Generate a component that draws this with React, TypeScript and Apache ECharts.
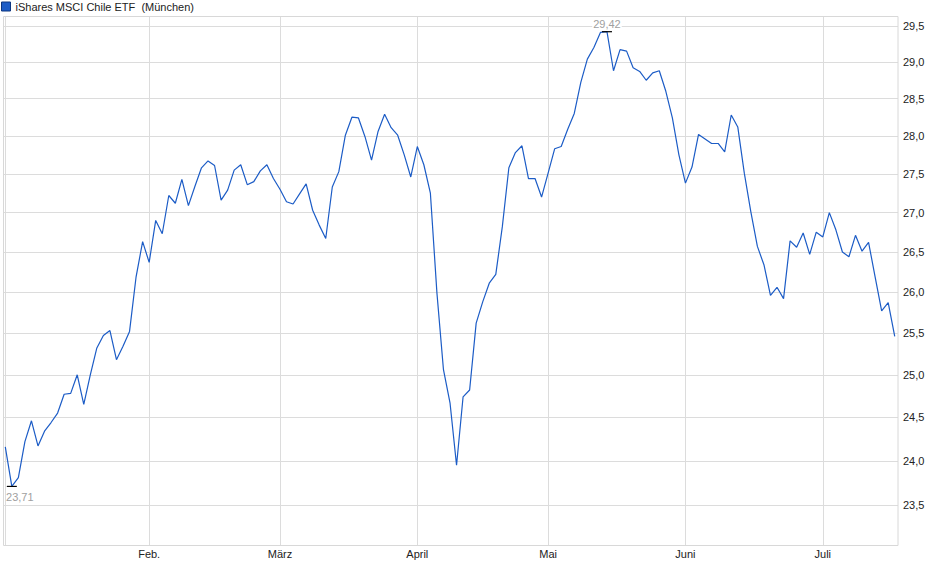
import { useEffect, useRef } from 'react'
import * as echarts from 'echarts'

const SERIES_NAME = 'iShares MSCI Chile ETF  (München)'

// trading-day index of the first session of each month (Jan 2 .. Jul 16, 2025)
const MONTH_START = [0, 22, 42, 63, 83, 104, 125]
const MONTH_LABELS = ['', 'Feb.', 'März', 'April', 'Mai', 'Juni', 'Juli']

const Y_TICKS = [23.5, 24, 24.5, 25, 25.5, 26, 26.5, 27, 27.5, 28, 28.5, 29, 29.5]

// closing prices, one per trading day
const PRICES_JAN = [
  24.16, 23.71, 23.81, 24.22, 24.46, 24.17, 24.34, 24.44, 24.55, 24.77, 24.78,
  25.0, 24.65, 25.0, 25.32, 25.47, 25.53, 25.18, 25.34, 25.52, 26.19, 26.63,
]
const PRICES_FEB = [
  26.37, 26.9, 26.73, 27.22, 27.12, 27.43, 27.09, 27.34, 27.58, 27.67,
  27.61, 27.16, 27.29, 27.55, 27.62, 27.36, 27.4, 27.54, 27.62, 27.44,
]
const PRICES_MAR = [
  27.3, 27.14, 27.11, 27.24, 27.37, 27.03, 26.84, 26.67, 27.33, 27.53, 28.01,
  28.25, 28.24, 27.99, 27.68, 28.06, 28.29, 28.11, 28.01, 27.75, 27.46,
]
const PRICES_APR = [
  27.86, 27.62, 27.25, 25.99, 25.06, 24.67, 23.95, 24.74, 24.82, 25.62,
  25.88, 26.11, 26.22, 26.82, 27.58, 27.78, 27.87, 27.44, 27.44, 27.2,
]
const PRICES_MAY = [
  27.51, 27.83, 27.86, 28.09, 28.3, 28.72, 29.04, 29.2, 29.41, 29.42, 28.88,
  29.17, 29.15, 28.92, 28.87, 28.75, 28.85, 28.88, 28.6, 28.24, 27.75,
]
const PRICES_JUN = [
  27.38, 27.59, 28.02, 27.96, 27.9, 27.9, 27.79, 28.28, 28.12, 27.51, 27.01,
  26.57, 26.34, 25.96, 26.06, 25.92, 26.64, 26.56, 26.74, 26.47, 26.75,
]
const PRICES_JUL = [
  26.69, 27.0, 26.78, 26.5, 26.44, 26.71, 26.51, 26.62, 26.19, 25.77, 25.87, 25.46,
]

const PRICES = [
  ...PRICES_JAN,
  ...PRICES_FEB,
  ...PRICES_MAR,
  ...PRICES_APR,
  ...PRICES_MAY,
  ...PRICES_JUN,
  ...PRICES_JUL,
]

const FONT = '"Liberation Sans", Arial, sans-serif'
const comma = (v: number, d: number) => v.toFixed(d).replace('.', ',')

export default function App() {
  const ref = useRef<HTMLDivElement | null>(null)

  useEffect(() => {
    if (!ref.current) return
    const chart = echarts.init(ref.current, null, { renderer: 'svg' })
    chart.setOption({
      animation: false,
      textStyle: { fontFamily: FONT },
      legend: {
        data: [SERIES_NAME],
        left: 1,
        top: 1,
        padding: 0,
        icon: 'rect',
        itemWidth: 9,
        itemHeight: 9,
        itemGap: 4,
        textStyle: { fontSize: 11, color: '#222', fontFamily: FONT },
        itemStyle: { color: '#1c5cc6', borderColor: '#0d3680', borderWidth: 1 },
      },
      grid: { left: 3, right: 42, top: 16, bottom: 34 },
      xAxis: {
        type: 'value',
        min: -0.35,
        max: 136.5,
        axisLine: { show: false },
        axisTick: { show: false, customValues: MONTH_START },
        axisLabel: {
          customValues: MONTH_START.slice(1),
          formatter: (v: number) => MONTH_LABELS[MONTH_START.indexOf(Math.round(v))] ?? '',
          fontSize: 11,
          color: '#222',
          margin: 3,
          fontFamily: FONT,
        },
        splitLine: { show: true, lineStyle: { color: '#dcdcdc', width: 1 } },
      },
      yAxis: {
        type: 'log',
        logBase: 10,
        position: 'right',
        min: 23.06,
        max: 29.64,
        axisLine: { show: false },
        axisTick: { show: false, customValues: Y_TICKS },
        axisLabel: {
          customValues: Y_TICKS,
          formatter: (v: number) => comma(v, 1),
          fontSize: 11,
          color: '#222',
          margin: 5,
          fontFamily: FONT,
        },
        splitLine: { show: true, lineStyle: { color: '#dcdcdc', width: 1 } },
      },
      graphic: [
        {
          type: 'rect',
          shape: { x: 3.5, y: 16.5, width: 894.5, height: 529 },
          style: { fill: 'none', stroke: '#d8d8d8', lineWidth: 1 },
          silent: true,
          z: 1,
        },
      ],
      series: [
        {
          name: SERIES_NAME,
          type: 'line',
          data: PRICES.map((v, i) => [i, v]),
          showSymbol: false,
          symbol: 'none',
          color: '#1c5cc6',
          lineStyle: { color: '#1c5cc6', width: 1.2 },
          markPoint: {
            symbol: 'rect',
            symbolSize: [10, 1.2],
            itemStyle: { color: '#000' },
            label: {
              show: true,
              formatter: (p: { value: number }) => comma(p.value, 2),
              color: '#a0a0a0',
              fontSize: 11,
              fontFamily: FONT,
            },
            data: [
              { type: 'min', label: { position: 'bottom', distance: 4, offset: [8, 0] } },
              {
                type: 'max',
                label: { position: 'top', distance: 2, backgroundColor: '#fff', padding: [0, 1] },
              },
            ],
          },
        },
      ],
    })
    return () => {
      chart.dispose()
    }
  }, [])

  return (
    <div
      ref={ref}
      style={{ position: 'absolute', left: 0, top: 0, width: 940, height: 579, background: '#fff' }}
    />
  )
}
